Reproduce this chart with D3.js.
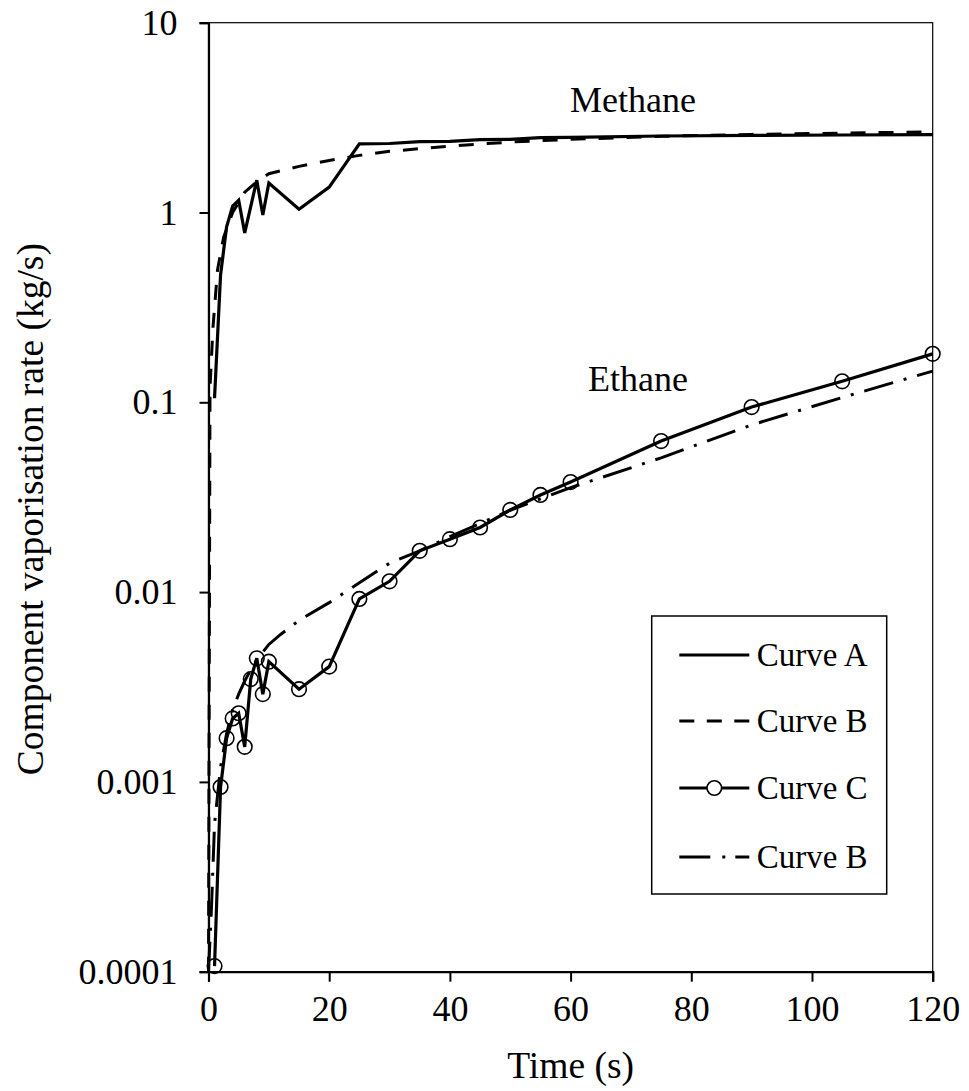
<!DOCTYPE html>
<html>
<head>
<meta charset="utf-8">
<script src="https://cdn.jsdelivr.net/npm/d3@7"></script>
<style>
  html, body { margin: 0; padding: 0; background: #fff; }
  svg { display: block; }
  text { font-family: "Liberation Serif", "Times New Roman", serif; fill: #000; }
</style>
</head>
<body>
<svg id="chart" width="969" height="1091"></svg>
<script>
// Axis ticks and labels
const xTicks = [0, 20, 40, 60, 80, 100, 120];
const yTicks = [0.0001, 0.001, 0.01, 0.1, 1, 10];
const yTickLabels = ["0.0001", "0.001", "0.01", "0.1", "1", "10"];

// Methane, Curve A (solid)
const methaneA_t = [1, 2, 3, 4, 5, 6, 8, 9, 10, 15, 20, 25, 30, 35, 40, 45, 50, 55, 60, 75, 90, 105, 120];
const methaneA_v = [0.105, 0.47, 0.84, 1.08, 1.16, 0.78, 1.48, 0.97, 1.43, 1.04, 1.36, 2.3, 2.31, 2.36, 2.37, 2.42, 2.43, 2.48, 2.49, 2.53, 2.55, 2.56, 2.57];

// Methane, Curve B (dashed)
const methaneB_t = [0, 0.25, 0.75, 1.5, 2.5, 4, 6, 8, 10, 15, 20, 25, 30, 40, 50, 60, 75, 90, 105, 120];
const methaneB_v = [0.0001, 0.12, 0.25, 0.5, 0.74, 1.0, 1.28, 1.45, 1.6, 1.75, 1.88, 2.0, 2.1, 2.24, 2.35, 2.43, 2.52, 2.58, 2.62, 2.66];

// Ethane, Curve C (solid with open circles)
const ethaneC_t = [1, 2, 3, 4, 5, 6, 7, 8, 9, 10, 15, 20, 25, 30, 35, 40, 45, 50, 55, 60, 75, 90, 105, 120];
const ethaneC_v = [0.000107, 0.00094, 0.0017, 0.00216, 0.0023, 0.00153, 0.00348, 0.00448, 0.0029, 0.0043, 0.00308, 0.00405, 0.0092, 0.0114, 0.0165, 0.019, 0.0219, 0.0271, 0.0325, 0.038, 0.0625, 0.0944, 0.129, 0.18];

// Ethane, Curve B (dash-dot)
const ethaneB_t = [0, 0.5, 1, 2, 3, 4, 5, 6, 7, 8, 10, 12, 15, 20, 25, 30, 35, 40, 45, 50, 55, 60, 75, 90, 105, 120];
const ethaneB_v = [0.0001, 0.00022, 0.0006, 0.0012, 0.0018, 0.0024, 0.0029, 0.0034, 0.0039, 0.0044, 0.0053, 0.006, 0.0071, 0.0088, 0.0112, 0.0142, 0.0165, 0.0196, 0.023, 0.027, 0.031, 0.0355, 0.051, 0.076, 0.106, 0.146];

const legendLabels = ["Curve A", "Curve B", "Curve C", "Curve B"];

const svg = d3.select("#chart");
const plotL = 208.5, plotR = 932.7, plotT = 22.7, plotB = 971.7;

const x = d3.scaleLinear().domain([0, 120]).range([plotL, plotR]);
const y = d3.scaleLog().domain([0.0001, 10]).range([plotB, plotT]);

const FONT = 36;
const SERIF = "Liberation Serif";

// plot-area frame
svg.append("rect")
  .attr("x", plotL).attr("y", plotT)
  .attr("width", plotR - plotL).attr("height", plotB - plotT)
  .attr("fill", "none").attr("stroke", "#000").attr("stroke-width", 1.2);

// x axis
const gx = svg.append("g").attr("transform", `translate(0,${plotB})`)
  .call(d3.axisBottom(x).tickValues(xTicks).tickSize(10).tickPadding(14).tickFormat(d3.format("d")));
gx.attr("font-family", SERIF);
gx.select(".domain").attr("stroke-width", 2.2);
gx.selectAll(".tick line").attr("stroke-width", 2);
gx.selectAll("text").style("font-size", FONT + "px").style("font-family", SERIF);

// y axis
const gy = svg.append("g").attr("transform", `translate(${plotL},0)`)
  .call(d3.axisLeft(y).tickValues(yTicks).tickSize(9).tickPadding(22)
    .tickFormat((d, i) => yTickLabels[i]));
gy.attr("font-family", SERIF);
gy.select(".domain").attr("stroke-width", 2.2);
gy.selectAll(".tick line").attr("stroke-width", 2);
gy.selectAll("text").style("font-size", FONT + "px").style("font-family", SERIF);

// axis titles
svg.append("text")
  .attr("x", (plotL + plotR) / 2).attr("y", 1078)
  .attr("text-anchor", "middle").style("font-size", "37.5px").style("font-family", SERIF)
  .text("Time (s)");

svg.append("text")
  .attr("transform", `translate(43,${(plotT + plotB) / 2 + 12}) rotate(-90)`)
  .attr("text-anchor", "middle").style("font-size", "37.5px").style("font-family", SERIF)
  .text("Component vaporisation rate (kg/s)");

// series
const line = d3.line().x(d => x(d[0])).y(d => y(d[1]));
const zip = (t, v) => t.map((ti, i) => [ti, v[i]]);

const plot = svg.append("g");

plot.append("path").datum(zip(methaneB_t, methaneB_v))
  .attr("d", line).attr("fill", "none").attr("stroke", "#000")
  .attr("stroke-width", 3).attr("stroke-dasharray", "15,13");

plot.append("path").datum(zip(ethaneB_t, ethaneB_v))
  .attr("d", line).attr("fill", "none").attr("stroke", "#000")
  .attr("stroke-width", 3).attr("stroke-dasharray", "30,11,3,11");

plot.append("path").datum(zip(methaneA_t, methaneA_v))
  .attr("d", line).attr("fill", "none").attr("stroke", "#000")
  .attr("stroke-width", 3.2).attr("stroke-linejoin", "miter");

const cData = zip(ethaneC_t, ethaneC_v);
plot.append("path").datum(cData)
  .attr("d", line).attr("fill", "none").attr("stroke", "#000")
  .attr("stroke-width", 3.2);

plot.selectAll("circle.mk").data(cData).enter().append("circle")
  .attr("class", "mk")
  .attr("cx", d => x(d[0])).attr("cy", d => y(d[1])).attr("r", 7.3)
  .attr("fill", "none").attr("stroke", "#000").attr("stroke-width", 1.6);

// curve annotations
svg.append("text").attr("x", 570).attr("y", 112).style("font-size", FONT + "px").style("font-family", SERIF).text("Methane");
svg.append("text").attr("x", 588).attr("y", 391).style("font-size", FONT + "px").style("font-family", SERIF).text("Ethane");

// legend
const lg = svg.append("g");
lg.append("rect").attr("x", 651.7).attr("y", 616).attr("width", 235).attr("height", 278)
  .attr("fill", "#fff").attr("stroke", "#000").attr("stroke-width", 1.5);

const rowY = [655, 721, 788, 857];
const styles = [
  { dash: null, marker: false },
  { dash: "15,12.5", marker: false },
  { dash: null, marker: true },
  { dash: "31,12,3,10", marker: false }
];
legendLabels.forEach((lab, i) => {
  const g = lg.append("g");
  g.append("line").attr("x1", 679.3).attr("x2", 749.3).attr("y1", rowY[i]).attr("y2", rowY[i])
    .attr("stroke", "#000").attr("stroke-width", 3)
    .attr("stroke-dasharray", styles[i].dash);
  if (styles[i].marker) {
    g.append("circle").attr("cx", 714.3).attr("cy", rowY[i]).attr("r", 7.3)
      .attr("fill", "#fff").attr("stroke", "#000").attr("stroke-width", 1.6);
  }
  g.append("text").attr("x", 756.7).attr("y", rowY[i] + 11).style("font-size", "33px").style("font-family", SERIF).text(lab);
});
</script>
</body>
</html>
